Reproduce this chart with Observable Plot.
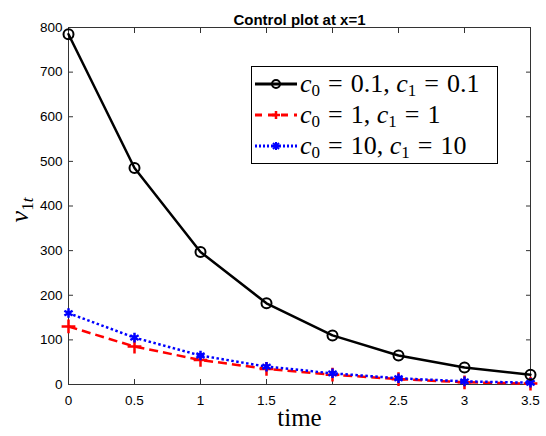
<!DOCTYPE html>
<html><head><meta charset="utf-8">
<script src="https://cdn.jsdelivr.net/npm/d3@7"></script>
<script src="https://cdn.jsdelivr.net/npm/@observablehq/plot@0.6"></script>
<style>
body{margin:0;background:#fff;}
#wrap{position:relative;width:546px;height:436px;background:#fff;}
#legend{position:absolute;left:251px;top:66px;width:247px;height:98px;border:1.5px solid #000;background:#fff;font-family:"Liberation Serif",serif;font-size:26px;box-sizing:border-box;}
.row{position:absolute;left:0;height:28px;display:flex;align-items:center;white-space:nowrap;line-height:1;}
.row span.t{line-height:1;display:inline-block;}
.row svg{margin-left:2px;margin-right:2px;}
.row i{font-style:italic;}
.row sub{font-size:17px;vertical-align:-4px;line-height:0;}
.eq{margin:0 8px;}
#ylab{position:absolute;left:20px;top:210px;transform:translate(-50%,-50%) rotate(-90deg);font-family:"Liberation Serif",serif;font-size:26px;white-space:nowrap;line-height:1;}
#ylab sub{font-size:17px;vertical-align:-5px;line-height:0;}
</style></head>
<body><div id="wrap"></div>
<script>
const times = [0, 0.5, 1, 1.5, 2, 2.5, 3, 3.5];
const seriesA = [785, 485, 297, 182, 110, 65, 38, 22];   // c0=0.1, c1=0.1
const seriesB = [130, 85, 55, 35, 22, 12, 5, 2];         // c0=1, c1=1
const seriesC = [160, 105, 65, 40, 25, 14, 7, 4];        // c0=10, c1=10
const xTicks = [0, 0.5, 1, 1.5, 2, 2.5, 3, 3.5];
const yTicks = [0, 100, 200, 300, 400, 500, 600, 700, 800];
const titleText = "Control plot at x=1";
const xLabel = "time";

const A = times.map((t,i)=>({t, v: seriesA[i]}));
const B = times.map((t,i)=>({t, v: seriesB[i]}));
const C = times.map((t,i)=>({t, v: seriesC[i]}));

const axisColor = "#333";
const chart = Plot.plot({
  width: 546, height: 436,
  marginLeft: 68, marginRight: 16, marginTop: 27, marginBottom: 52,
  style: {background: "#fff", fontFamily: "'Liberation Sans', Arial, sans-serif", fontSize: "13.5px", color: "#000"},
  x: {domain: [0, 3.5]},
  y: {domain: [0, 800]},
  marks: [
    Plot.axisX({ticks: xTicks, tickSize: -5, tickPadding: 16, stroke: axisColor, label: null, tickFormat: d => String(d), fontSize: 13.5}),
    Plot.axisX({anchor: "top", ticks: xTicks, tickSize: -5, stroke: axisColor, label: null, tickFormat: () => ""}),
    Plot.axisY({ticks: yTicks, tickSize: -5, tickPadding: 11, stroke: axisColor, label: null, fontSize: 13.5}),
    Plot.axisY({anchor: "right", ticks: yTicks, tickSize: -5, stroke: axisColor, label: null, tickFormat: () => ""}),
    Plot.frame({stroke: axisColor, strokeWidth: 1}),
    Plot.line(B, {x: "t", y: "v", stroke: "#ff0000", strokeWidth: 2.5, strokeDasharray: "9,5", strokeLinecap: "butt"}),
    Plot.dot(B, {x: "t", y: "v", symbol: "plus", r: 4.5, stroke: "#ff0000", strokeWidth: 2.5}),
    Plot.line(C, {x: "t", y: "v", stroke: "#0000ff", strokeWidth: 2.5, strokeDasharray: "2.5,2.5", strokeLinecap: "butt"}),
    Plot.dot(C, {x: "t", y: "v", symbol: "asterisk", r: 4.5, stroke: "#0000ff", strokeWidth: 2.5}),
    Plot.line(A, {x: "t", y: "v", stroke: "#000", strokeWidth: 2.5}),
    Plot.dot(A, {x: "t", y: "v", symbol: "circle", r: 5, stroke: "#000", strokeWidth: 2, fill: "none"}),
    Plot.text([titleText], {frameAnchor: "top", dy: -13, fontWeight: "bold", fontSize: 15, fill: "#000"}),
    Plot.text([xLabel], {frameAnchor: "bottom", dy: 41, fontSize: 25, fontFamily: "'Liberation Serif', serif", fill: "#000"})
  ]
});
const wrap = document.getElementById("wrap");
wrap.appendChild(chart);

function sample(color, dash, sym) {
  let m = "";
  if (sym === "circle") m = `<circle cx="22" cy="14" r="4" fill="none" stroke="${color}" stroke-width="2"/>`;
  if (sym === "plus") m = `<path d="M18,14h8M22,10v8" stroke="${color}" stroke-width="2.5"/>`;
  if (sym === "asterisk") m = `<path d="M18,14h8M22,10v8M19,11l6,6M25,11l-6,6" stroke="${color}" stroke-width="2"/>`;
  return `<svg width="44" height="28"><line x1="1" y1="14" x2="43" y2="14" stroke="${color}" stroke-width="2.8" ${dash ? `stroke-dasharray="${dash}"` : ""}/>${m}</svg>`;
}
const eq = `<span class="eq">=</span>`;
const leg = document.createElement("div");
leg.id = "legend";
leg.innerHTML =
  `<div class="row" style="top:3px">${sample("#000", null, "circle")}<span class="t"><i>c</i><sub>0</sub>${eq}0.1, <i>c</i><sub>1</sub>${eq}0.1</span></div>` +
  `<div class="row" style="top:34px">${sample("#ff0000", "7,6", "plus")}<span class="t"><i>c</i><sub>0</sub>${eq}1, <i>c</i><sub>1</sub>${eq}1</span></div>` +
  `<div class="row" style="top:65px">${sample("#0000ff", "2,2", "asterisk")}<span class="t"><i>c</i><sub>0</sub>${eq}10, <i>c</i><sub>1</sub>${eq}10</span></div>`;
wrap.appendChild(leg);
const yl = document.createElement("div");
yl.id = "ylab";
yl.innerHTML = `<i>v</i><sub>1<i>t</i></sub>`;
wrap.appendChild(yl);
</script></body></html>
